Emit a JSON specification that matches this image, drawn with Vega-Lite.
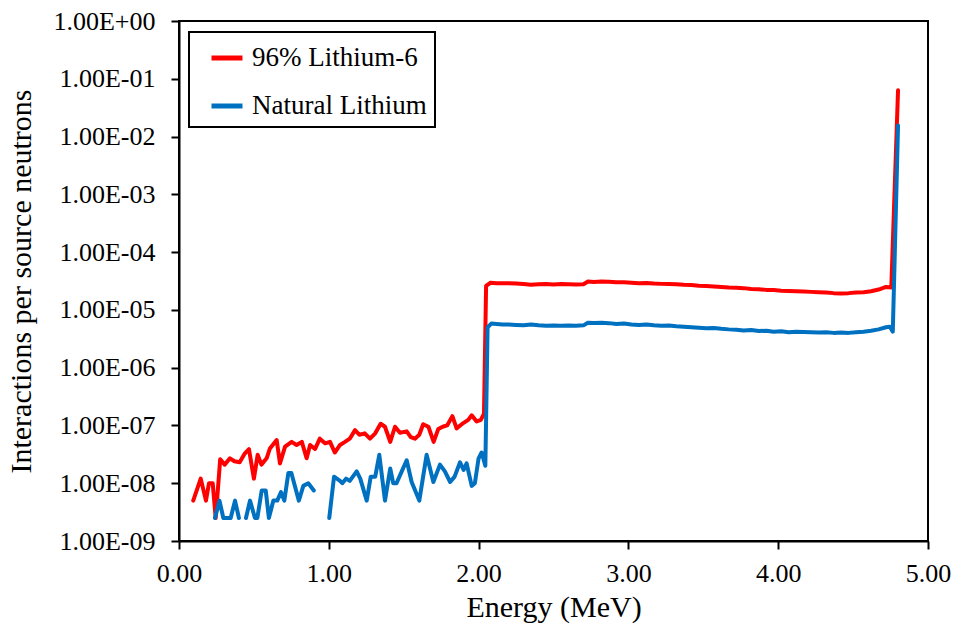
{
  "$schema": "https://vega.github.io/schema/vega-lite/v6.json",
  "width": 749,
  "height": 520,
  "autosize": "none",
  "padding": {"left": 179, "top": 21, "right": 28, "bottom": 87},
  "background": "white",
  "config": {
    "view": {"stroke": "#000000", "strokeWidth": 2},
    "font": "Liberation Serif",
    "axis": {
      "grid": false,
      "domainColor": "#000000",
      "domainWidth": 2,
      "tickColor": "#000000",
      "tickWidth": 2,
      "tickSize": 8,
      "labelColor": "#000000",
      "labelFont": "Liberation Serif",
      "labelFontSize": 26,
      "titleColor": "#000000",
      "titleFont": "Liberation Serif",
      "titleFontSize": 30,
      "titleFontWeight": "normal"
    }
  },
  "data": {
    "values": [
      {"series": "96% Lithium-6", "energy": 0.095, "value": 5.0e-9},
      {"series": "96% Lithium-6", "energy": 0.145, "value": 1.2e-8},
      {"series": "96% Lithium-6", "energy": 0.18, "value": 5.0e-9},
      {"series": "96% Lithium-6", "energy": 0.2, "value": 1.0e-8},
      {"series": "96% Lithium-6", "energy": 0.225, "value": 1.0e-8},
      {"series": "96% Lithium-6", "energy": 0.245, "value": 2.5e-9},
      {"series": "96% Lithium-6", "energy": 0.275, "value": 2.6e-8},
      {"series": "96% Lithium-6", "energy": 0.305, "value": 2.1e-8},
      {"series": "96% Lithium-6", "energy": 0.34, "value": 2.7e-8},
      {"series": "96% Lithium-6", "energy": 0.37, "value": 2.4e-8},
      {"series": "96% Lithium-6", "energy": 0.405, "value": 2.3e-8},
      {"series": "96% Lithium-6", "energy": 0.44, "value": 3.3e-8},
      {"series": "96% Lithium-6", "energy": 0.467, "value": 3.9e-8},
      {"series": "96% Lithium-6", "energy": 0.5, "value": 1.2e-8},
      {"series": "96% Lithium-6", "energy": 0.525, "value": 3.1e-8},
      {"series": "96% Lithium-6", "energy": 0.55, "value": 2.1e-8},
      {"series": "96% Lithium-6", "energy": 0.585, "value": 2.7e-8},
      {"series": "96% Lithium-6", "energy": 0.607, "value": 4.0e-8},
      {"series": "96% Lithium-6", "energy": 0.652, "value": 5.6e-8},
      {"series": "96% Lithium-6", "energy": 0.674, "value": 2.2e-8},
      {"series": "96% Lithium-6", "energy": 0.708, "value": 4.3e-8},
      {"series": "96% Lithium-6", "energy": 0.752, "value": 5.2e-8},
      {"series": "96% Lithium-6", "energy": 0.785, "value": 4.6e-8},
      {"series": "96% Lithium-6", "energy": 0.82, "value": 5.2e-8},
      {"series": "96% Lithium-6", "energy": 0.852, "value": 2.7e-8},
      {"series": "96% Lithium-6", "energy": 0.875, "value": 4.6e-8},
      {"series": "96% Lithium-6", "energy": 0.908, "value": 3.9e-8},
      {"series": "96% Lithium-6", "energy": 0.94, "value": 5.9e-8},
      {"series": "96% Lithium-6", "energy": 0.975, "value": 4.9e-8},
      {"series": "96% Lithium-6", "energy": 1.008, "value": 5.2e-8},
      {"series": "96% Lithium-6", "energy": 1.04, "value": 3.4e-8},
      {"series": "96% Lithium-6", "energy": 1.075, "value": 4.6e-8},
      {"series": "96% Lithium-6", "energy": 1.108, "value": 5.2e-8},
      {"series": "96% Lithium-6", "energy": 1.14, "value": 5.9e-8},
      {"series": "96% Lithium-6", "energy": 1.175, "value": 8.3e-8},
      {"series": "96% Lithium-6", "energy": 1.204, "value": 6.9e-8},
      {"series": "96% Lithium-6", "energy": 1.24, "value": 7.3e-8},
      {"series": "96% Lithium-6", "energy": 1.275, "value": 5.9e-8},
      {"series": "96% Lithium-6", "energy": 1.31, "value": 7.3e-8},
      {"series": "96% Lithium-6", "energy": 1.346, "value": 1.07e-7},
      {"series": "96% Lithium-6", "energy": 1.375, "value": 9.5e-8},
      {"series": "96% Lithium-6", "energy": 1.41, "value": 5.2e-8},
      {"series": "96% Lithium-6", "energy": 1.442, "value": 9.5e-8},
      {"series": "96% Lithium-6", "energy": 1.475, "value": 7.5e-8},
      {"series": "96% Lithium-6", "energy": 1.52, "value": 7.9e-8},
      {"series": "96% Lithium-6", "energy": 1.547, "value": 6.3e-8},
      {"series": "96% Lithium-6", "energy": 1.575, "value": 5.9e-8},
      {"series": "96% Lithium-6", "energy": 1.604, "value": 6.9e-8},
      {"series": "96% Lithium-6", "energy": 1.63, "value": 1.05e-7},
      {"series": "96% Lithium-6", "energy": 1.665, "value": 9.5e-8},
      {"series": "96% Lithium-6", "energy": 1.7, "value": 5.2e-8},
      {"series": "96% Lithium-6", "energy": 1.731, "value": 8.7e-8},
      {"series": "96% Lithium-6", "energy": 1.76, "value": 9.5e-8},
      {"series": "96% Lithium-6", "energy": 1.79, "value": 1.0e-7},
      {"series": "96% Lithium-6", "energy": 1.825, "value": 1.45e-7},
      {"series": "96% Lithium-6", "energy": 1.853, "value": 8.9e-8},
      {"series": "96% Lithium-6", "energy": 1.898, "value": 1.1e-7},
      {"series": "96% Lithium-6", "energy": 1.931, "value": 1.25e-7},
      {"series": "96% Lithium-6", "energy": 1.954, "value": 1.5e-7},
      {"series": "96% Lithium-6", "energy": 1.987, "value": 1.17e-7},
      {"series": "96% Lithium-6", "energy": 2.015, "value": 1.25e-7},
      {"series": "96% Lithium-6", "energy": 2.036, "value": 1.6e-7},
      {"series": "96% Lithium-6", "energy": 2.05, "value": 2.6e-5},
      {"series": "96% Lithium-6", "energy": 2.08, "value": 2.95e-5},
      {"series": "96% Lithium-6", "energy": 2.12, "value": 2.9e-5},
      {"series": "96% Lithium-6", "energy": 2.16, "value": 2.88e-5},
      {"series": "96% Lithium-6", "energy": 2.2, "value": 2.9e-5},
      {"series": "96% Lithium-6", "energy": 2.25, "value": 2.85e-5},
      {"series": "96% Lithium-6", "energy": 2.3, "value": 2.8e-5},
      {"series": "96% Lithium-6", "energy": 2.35, "value": 2.72e-5},
      {"series": "96% Lithium-6", "energy": 2.4, "value": 2.78e-5},
      {"series": "96% Lithium-6", "energy": 2.45, "value": 2.8e-5},
      {"series": "96% Lithium-6", "energy": 2.5, "value": 2.75e-5},
      {"series": "96% Lithium-6", "energy": 2.55, "value": 2.8e-5},
      {"series": "96% Lithium-6", "energy": 2.6, "value": 2.78e-5},
      {"series": "96% Lithium-6", "energy": 2.65, "value": 2.76e-5},
      {"series": "96% Lithium-6", "energy": 2.7, "value": 2.78e-5},
      {"series": "96% Lithium-6", "energy": 2.73, "value": 3.1e-5},
      {"series": "96% Lithium-6", "energy": 2.77, "value": 3.05e-5},
      {"series": "96% Lithium-6", "energy": 2.82, "value": 3.1e-5},
      {"series": "96% Lithium-6", "energy": 2.87, "value": 3.08e-5},
      {"series": "96% Lithium-6", "energy": 2.92, "value": 3.0e-5},
      {"series": "96% Lithium-6", "energy": 2.97, "value": 3.02e-5},
      {"series": "96% Lithium-6", "energy": 3.02, "value": 2.95e-5},
      {"series": "96% Lithium-6", "energy": 3.07, "value": 2.9e-5},
      {"series": "96% Lithium-6", "energy": 3.12, "value": 2.92e-5},
      {"series": "96% Lithium-6", "energy": 3.17, "value": 2.85e-5},
      {"series": "96% Lithium-6", "energy": 3.22, "value": 2.82e-5},
      {"series": "96% Lithium-6", "energy": 3.27, "value": 2.8e-5},
      {"series": "96% Lithium-6", "energy": 3.32, "value": 2.78e-5},
      {"series": "96% Lithium-6", "energy": 3.37, "value": 2.72e-5},
      {"series": "96% Lithium-6", "energy": 3.42, "value": 2.7e-5},
      {"series": "96% Lithium-6", "energy": 3.47, "value": 2.62e-5},
      {"series": "96% Lithium-6", "energy": 3.52, "value": 2.6e-5},
      {"series": "96% Lithium-6", "energy": 3.57, "value": 2.55e-5},
      {"series": "96% Lithium-6", "energy": 3.62, "value": 2.5e-5},
      {"series": "96% Lithium-6", "energy": 3.67, "value": 2.45e-5},
      {"series": "96% Lithium-6", "energy": 3.72, "value": 2.42e-5},
      {"series": "96% Lithium-6", "energy": 3.77, "value": 2.38e-5},
      {"series": "96% Lithium-6", "energy": 3.82, "value": 2.3e-5},
      {"series": "96% Lithium-6", "energy": 3.87, "value": 2.28e-5},
      {"series": "96% Lithium-6", "energy": 3.92, "value": 2.22e-5},
      {"series": "96% Lithium-6", "energy": 3.97, "value": 2.2e-5},
      {"series": "96% Lithium-6", "energy": 4.02, "value": 2.15e-5},
      {"series": "96% Lithium-6", "energy": 4.07, "value": 2.12e-5},
      {"series": "96% Lithium-6", "energy": 4.12, "value": 2.1e-5},
      {"series": "96% Lithium-6", "energy": 4.17, "value": 2.08e-5},
      {"series": "96% Lithium-6", "energy": 4.22, "value": 2.05e-5},
      {"series": "96% Lithium-6", "energy": 4.27, "value": 2.02e-5},
      {"series": "96% Lithium-6", "energy": 4.32, "value": 2.0e-5},
      {"series": "96% Lithium-6", "energy": 4.37, "value": 1.95e-5},
      {"series": "96% Lithium-6", "energy": 4.42, "value": 1.92e-5},
      {"series": "96% Lithium-6", "energy": 4.47, "value": 1.95e-5},
      {"series": "96% Lithium-6", "energy": 4.52, "value": 2.0e-5},
      {"series": "96% Lithium-6", "energy": 4.57, "value": 2.02e-5},
      {"series": "96% Lithium-6", "energy": 4.62, "value": 2.1e-5},
      {"series": "96% Lithium-6", "energy": 4.67, "value": 2.25e-5},
      {"series": "96% Lithium-6", "energy": 4.72, "value": 2.5e-5},
      {"series": "96% Lithium-6", "energy": 4.755, "value": 2.45e-5},
      {"series": "96% Lithium-6", "energy": 4.8, "value": 6.3e-2},

      {"series": "Natural Lithium", "energy": 0.24, "value": 2.5e-9},
      {"series": "Natural Lithium", "energy": 0.27, "value": 5.0e-9},
      {"series": "Natural Lithium", "energy": 0.296, "value": 2.5e-9},
      {"series": "Natural Lithium", "energy": 0.345, "value": 2.5e-9},
      {"series": "Natural Lithium", "energy": 0.374, "value": 5.0e-9},
      {"series": "Natural Lithium", "energy": 0.4, "value": 2.5e-9},
      {"series": "Natural Lithium", "energy": 0.425, "value": null},
      {"series": "Natural Lithium", "energy": 0.447, "value": 2.5e-9},
      {"series": "Natural Lithium", "energy": 0.474, "value": 5.0e-9},
      {"series": "Natural Lithium", "energy": 0.507, "value": 2.5e-9},
      {"series": "Natural Lithium", "energy": 0.523, "value": 2.5e-9},
      {"series": "Natural Lithium", "energy": 0.552, "value": 7.5e-9},
      {"series": "Natural Lithium", "energy": 0.579, "value": 7.5e-9},
      {"series": "Natural Lithium", "energy": 0.6, "value": 2.5e-9},
      {"series": "Natural Lithium", "energy": 0.63, "value": 5.0e-9},
      {"series": "Natural Lithium", "energy": 0.656, "value": 5.0e-9},
      {"series": "Natural Lithium", "energy": 0.681, "value": 7.0e-9},
      {"series": "Natural Lithium", "energy": 0.703, "value": 5.0e-9},
      {"series": "Natural Lithium", "energy": 0.73, "value": 1.5e-8},
      {"series": "Natural Lithium", "energy": 0.75, "value": 1.5e-8},
      {"series": "Natural Lithium", "energy": 0.8, "value": 5.0e-9},
      {"series": "Natural Lithium", "energy": 0.83, "value": 9.0e-9},
      {"series": "Natural Lithium", "energy": 0.863, "value": 1.0e-8},
      {"series": "Natural Lithium", "energy": 0.9, "value": 7.5e-9},
      {"series": "Natural Lithium", "energy": 0.95, "value": null},
      {"series": "Natural Lithium", "energy": 1.003, "value": 2.5e-9},
      {"series": "Natural Lithium", "energy": 1.035, "value": 1.3e-8},
      {"series": "Natural Lithium", "energy": 1.075, "value": 1.1e-8},
      {"series": "Natural Lithium", "energy": 1.09, "value": 1.0e-8},
      {"series": "Natural Lithium", "energy": 1.115, "value": 1.2e-8},
      {"series": "Natural Lithium", "energy": 1.14, "value": 1.1e-8},
      {"series": "Natural Lithium", "energy": 1.186, "value": 1.6e-8},
      {"series": "Natural Lithium", "energy": 1.21, "value": 1.2e-8},
      {"series": "Natural Lithium", "energy": 1.253, "value": 5.0e-9},
      {"series": "Natural Lithium", "energy": 1.28, "value": 1.3e-8},
      {"series": "Natural Lithium", "energy": 1.31, "value": 1.3e-8},
      {"series": "Natural Lithium", "energy": 1.337, "value": 3.1e-8},
      {"series": "Natural Lithium", "energy": 1.375, "value": 5.0e-9},
      {"series": "Natural Lithium", "energy": 1.41, "value": 1.8e-8},
      {"series": "Natural Lithium", "energy": 1.43, "value": 1.0e-8},
      {"series": "Natural Lithium", "energy": 1.452, "value": 1.0e-8},
      {"series": "Natural Lithium", "energy": 1.487, "value": 1.6e-8},
      {"series": "Natural Lithium", "energy": 1.52, "value": 2.5e-8},
      {"series": "Natural Lithium", "energy": 1.553, "value": 1.05e-8},
      {"series": "Natural Lithium", "energy": 1.604, "value": 5.0e-9},
      {"series": "Natural Lithium", "energy": 1.653, "value": 3.1e-8},
      {"series": "Natural Lithium", "energy": 1.698, "value": 1.05e-8},
      {"series": "Natural Lithium", "energy": 1.742, "value": 2.1e-8},
      {"series": "Natural Lithium", "energy": 1.775, "value": 1.6e-8},
      {"series": "Natural Lithium", "energy": 1.81, "value": 1.05e-8},
      {"series": "Natural Lithium", "energy": 1.84, "value": 1.3e-8},
      {"series": "Natural Lithium", "energy": 1.876, "value": 2.3e-8},
      {"series": "Natural Lithium", "energy": 1.9, "value": 1.7e-8},
      {"series": "Natural Lithium", "energy": 1.92, "value": 2.2e-8},
      {"series": "Natural Lithium", "energy": 1.954, "value": 9.0e-9},
      {"series": "Natural Lithium", "energy": 1.975, "value": 1.0e-8},
      {"series": "Natural Lithium", "energy": 2.0, "value": 2.7e-8},
      {"series": "Natural Lithium", "energy": 2.02, "value": 3.4e-8},
      {"series": "Natural Lithium", "energy": 2.045, "value": 2.0e-8},
      {"series": "Natural Lithium", "energy": 2.06, "value": 5.0e-6},
      {"series": "Natural Lithium", "energy": 2.085, "value": 5.8e-6},
      {"series": "Natural Lithium", "energy": 2.12, "value": 5.7e-6},
      {"series": "Natural Lithium", "energy": 2.16, "value": 5.6e-6},
      {"series": "Natural Lithium", "energy": 2.2, "value": 5.6e-6},
      {"series": "Natural Lithium", "energy": 2.25, "value": 5.5e-6},
      {"series": "Natural Lithium", "energy": 2.3, "value": 5.4e-6},
      {"series": "Natural Lithium", "energy": 2.35, "value": 5.6e-6},
      {"series": "Natural Lithium", "energy": 2.4, "value": 5.4e-6},
      {"series": "Natural Lithium", "energy": 2.45, "value": 5.3e-6},
      {"series": "Natural Lithium", "energy": 2.5, "value": 5.35e-6},
      {"series": "Natural Lithium", "energy": 2.55, "value": 5.3e-6},
      {"series": "Natural Lithium", "energy": 2.6, "value": 5.35e-6},
      {"series": "Natural Lithium", "energy": 2.65, "value": 5.3e-6},
      {"series": "Natural Lithium", "energy": 2.7, "value": 5.4e-6},
      {"series": "Natural Lithium", "energy": 2.73, "value": 6.0e-6},
      {"series": "Natural Lithium", "energy": 2.77, "value": 5.95e-6},
      {"series": "Natural Lithium", "energy": 2.82, "value": 6.0e-6},
      {"series": "Natural Lithium", "energy": 2.87, "value": 5.9e-6},
      {"series": "Natural Lithium", "energy": 2.92, "value": 5.7e-6},
      {"series": "Natural Lithium", "energy": 2.97, "value": 5.8e-6},
      {"series": "Natural Lithium", "energy": 3.02, "value": 5.6e-6},
      {"series": "Natural Lithium", "energy": 3.07, "value": 5.5e-6},
      {"series": "Natural Lithium", "energy": 3.12, "value": 5.6e-6},
      {"series": "Natural Lithium", "energy": 3.17, "value": 5.4e-6},
      {"series": "Natural Lithium", "energy": 3.22, "value": 5.3e-6},
      {"series": "Natural Lithium", "energy": 3.27, "value": 5.35e-6},
      {"series": "Natural Lithium", "energy": 3.32, "value": 5.2e-6},
      {"series": "Natural Lithium", "energy": 3.37, "value": 5.1e-6},
      {"series": "Natural Lithium", "energy": 3.42, "value": 5.0e-6},
      {"series": "Natural Lithium", "energy": 3.47, "value": 4.9e-6},
      {"series": "Natural Lithium", "energy": 3.52, "value": 4.8e-6},
      {"series": "Natural Lithium", "energy": 3.57, "value": 4.85e-6},
      {"series": "Natural Lithium", "energy": 3.62, "value": 4.7e-6},
      {"series": "Natural Lithium", "energy": 3.67, "value": 4.6e-6},
      {"series": "Natural Lithium", "energy": 3.72, "value": 4.55e-6},
      {"series": "Natural Lithium", "energy": 3.77, "value": 4.4e-6},
      {"series": "Natural Lithium", "energy": 3.82, "value": 4.5e-6},
      {"series": "Natural Lithium", "energy": 3.87, "value": 4.3e-6},
      {"series": "Natural Lithium", "energy": 3.92, "value": 4.35e-6},
      {"series": "Natural Lithium", "energy": 3.97, "value": 4.2e-6},
      {"series": "Natural Lithium", "energy": 4.02, "value": 4.25e-6},
      {"series": "Natural Lithium", "energy": 4.07, "value": 4.1e-6},
      {"series": "Natural Lithium", "energy": 4.12, "value": 4.2e-6},
      {"series": "Natural Lithium", "energy": 4.17, "value": 4.15e-6},
      {"series": "Natural Lithium", "energy": 4.22, "value": 4.1e-6},
      {"series": "Natural Lithium", "energy": 4.27, "value": 4.05e-6},
      {"series": "Natural Lithium", "energy": 4.32, "value": 4.1e-6},
      {"series": "Natural Lithium", "energy": 4.37, "value": 4.0e-6},
      {"series": "Natural Lithium", "energy": 4.42, "value": 4.05e-6},
      {"series": "Natural Lithium", "energy": 4.47, "value": 4.0e-6},
      {"series": "Natural Lithium", "energy": 4.52, "value": 4.1e-6},
      {"series": "Natural Lithium", "energy": 4.57, "value": 4.2e-6},
      {"series": "Natural Lithium", "energy": 4.62, "value": 4.35e-6},
      {"series": "Natural Lithium", "energy": 4.67, "value": 4.6e-6},
      {"series": "Natural Lithium", "energy": 4.72, "value": 5.0e-6},
      {"series": "Natural Lithium", "energy": 4.745, "value": 5.1e-6},
      {"series": "Natural Lithium", "energy": 4.765, "value": 4.2e-6},
      {"series": "Natural Lithium", "energy": 4.8, "value": 1.55e-2}
    ]
  },
  "mark": {
    "type": "line",
    "strokeWidth": 4,
    "strokeJoin": "round",
    "strokeCap": "round",
    "invalid": "break-paths-filter-domains"
  },
  "encoding": {
    "x": {
      "field": "energy",
      "type": "quantitative",
      "title": "Energy (MeV)",
      "scale": {"domain": [0, 5], "nice": false, "zero": false},
      "axis": {"values": [0, 1, 2, 3, 4, 5], "format": ".2f", "labelPadding": 11, "titlePadding": 6, "labelFlush": false}
    },
    "y": {
      "field": "value",
      "type": "quantitative",
      "title": "Interactions per source neutrons",
      "scale": {"type": "log", "domain": [1e-9, 1], "nice": false},
      "axis": {
        "values": [1e-9, 1e-8, 1e-7, 1e-6, 1e-5, 1e-4, 1e-3, 1e-2, 1e-1, 1],
        "labelExpr": "'1.00E' + (datum.value < 0.5 ? '-' : '+') + (abs(round(log(datum.value) / LN10)) < 10 ? '0' : '') + abs(round(log(datum.value) / LN10))",
        "labelPadding": 16,
        "titlePadding": 16,
        "labelFlush": false
      }
    },
    "color": {
      "field": "series",
      "type": "nominal",
      "scale": {"domain": ["96% Lithium-6", "Natural Lithium"], "range": ["#FF0000", "#0070C0"]},
      "legend": {
        "title": null,
        "orient": "none",
        "legendX": 10,
        "legendY": 11,
        "direction": "vertical",
        "strokeColor": "#000000",
        "fillColor": "#FFFFFF",
        "padding": 8,
        "symbolType": "stroke",
        "symbolSize": 961,
        "symbolStrokeWidth": 5,
        "symbolOffset": 12,
        "labelOffset": 7,
        "labelFont": "Liberation Serif",
        "labelFontSize": 27,
        "labelColor": "#000000",
        "labelLimit": 400,
        "rowPadding": 17,
        "encode": {"legend": {"update": {"strokeWidth": {"value": 2}}}}
      }
    }
  }
}
